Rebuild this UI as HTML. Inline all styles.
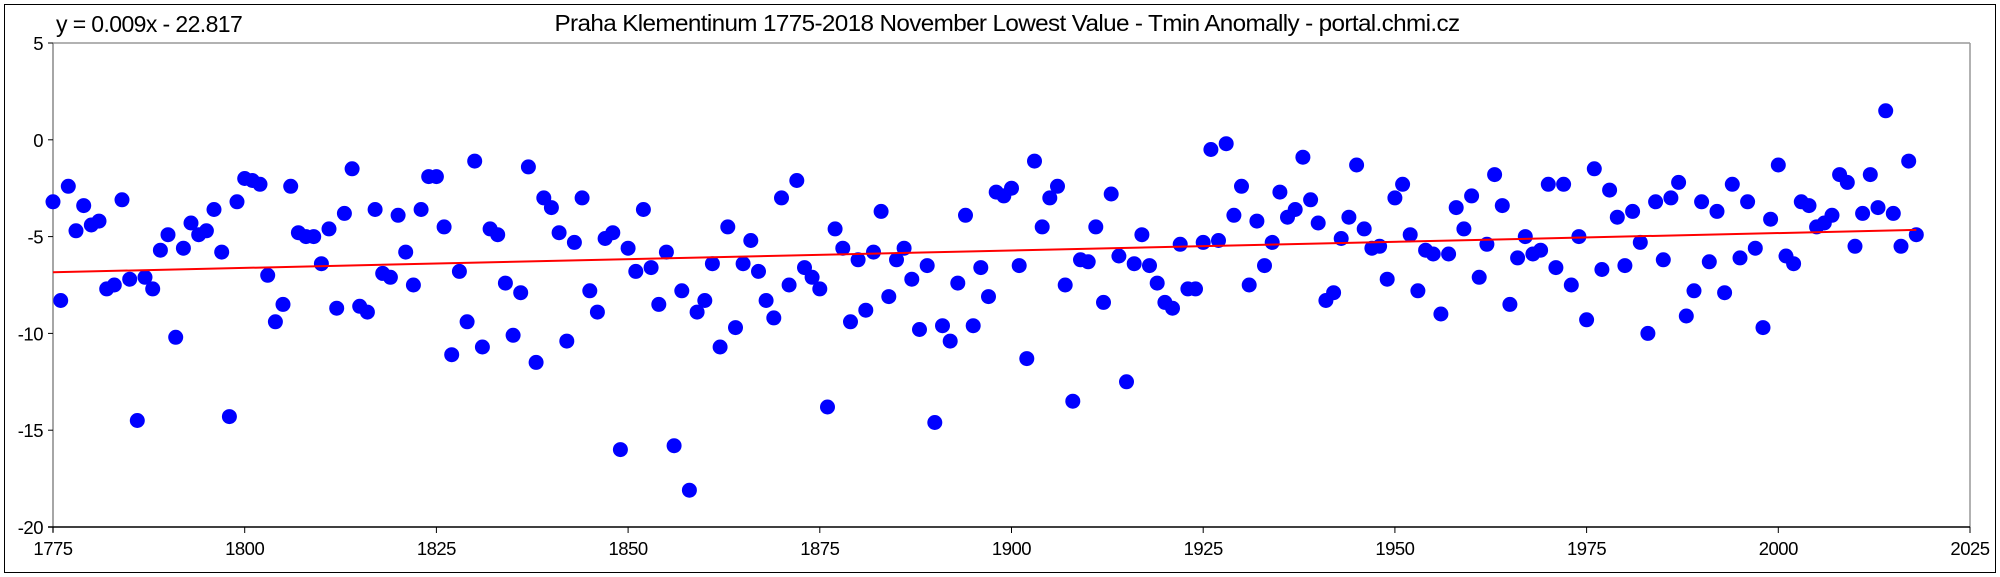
<!DOCTYPE html>
<html><head><meta charset="utf-8"><style>
html,body{margin:0;padding:0;background:#fff;}
svg{display:block;font-family:"Liberation Sans",Arial,sans-serif;}
</style></head><body>
<svg id="s" width="2000" height="577" xmlns="http://www.w3.org/2000/svg">
<rect x="4.5" y="4.5" width="1991" height="568" fill="#fff" stroke="#000" stroke-width="1"/>
<line x1="53" y1="43" x2="1970" y2="43" stroke="#999" stroke-width="1.5"/>
<line x1="1970" y1="43" x2="1970" y2="527" stroke="#999" stroke-width="1.5"/>
<line x1="53" y1="43" x2="53" y2="532" stroke="#888" stroke-width="1.5"/>
<line x1="48" y1="527" x2="1970" y2="527" stroke="#000" stroke-width="1.5"/>
<g id="ticks" stroke="#000" stroke-width="1"></g>
<g id="lab" font-size="18.5" fill="#000" letter-spacing="-0.5"></g>
<text x="56" y="32" font-size="23" letter-spacing="-0.6">y = 0.009x - 22.817</text>
<text x="1007" y="31" font-size="23" text-anchor="middle" letter-spacing="-0.6" textLength="905" lengthAdjust="spacingAndGlyphs">Praha Klementinum 1775-2018 November Lowest Value - Tmin Anomally - portal.chmi.cz</text>
<g id="pts" fill="#0000ff"></g>
<line id="tr" stroke="#ff0000" stroke-width="2"/>
</svg>
<script>
var d=[-3.2,-8.3,-2.4,-4.7,-3.4,-4.4,-4.2,-7.7,-7.5,-3.1,-7.2,-14.5,-7.1,-7.7,-5.7,-4.9,-10.2,-5.6,-4.3,-4.9,-4.7,-3.6,-5.8,-14.3,-3.2,
-2.0,-2.1,-2.3,-7.0,-9.4,-8.5,-2.4,-4.8,-5.0,-5.0,-6.4,-4.6,-8.7,-3.8,-1.5,-8.6,-8.9,-3.6,-6.9,-7.1,-3.9,-5.8,-7.5,-3.6,-1.9,
-1.9,-4.5,-11.1,-6.8,-9.4,-1.1,-10.7,-4.6,-4.9,-7.4,-10.1,-7.9,-1.4,-11.5,-3.0,-3.5,-4.8,-10.4,-5.3,-3.0,-7.8,-8.9,-5.1,-4.8,-16.0,
-5.6,-6.8,-3.6,-6.6,-8.5,-5.8,-15.8,-7.8,-18.1,-8.9,-8.3,-6.4,-10.7,-4.5,-9.7,-6.4,-5.2,-6.8,-8.3,-9.2,-3.0,-7.5,-2.1,-6.6,-7.1,
-7.7,-13.8,-4.6,-5.6,-9.4,-6.2,-8.8,-5.8,-3.7,-8.1,-6.2,-5.6,-7.2,-9.8,-6.5,-14.6,-9.6,-10.4,-7.4,-3.9,-9.6,-6.6,-8.1,-2.7,-2.9,
-2.5,-6.5,-11.3,-1.1,-4.5,-3.0,-2.4,-7.5,-13.5,-6.2,-6.3,-4.5,-8.4,-2.8,-6.0,-12.5,-6.4,-4.9,-6.5,-7.4,-8.4,-8.7,-5.4,-7.7,-7.7,
-5.3,-0.5,-5.2,-0.2,-3.9,-2.4,-7.5,-4.2,-6.5,-5.3,-2.7,-4.0,-3.6,-0.9,-3.1,-4.3,-8.3,-7.9,-5.1,-4.0,-1.3,-4.6,-5.6,-5.5,-7.2,
-3.0,-2.3,-4.9,-7.8,-5.7,-5.9,-9.0,-5.9,-3.5,-4.6,-2.9,-7.1,-5.4,-1.8,-3.4,-8.5,-6.1,-5.0,-5.9,-5.7,-2.3,-6.6,-2.3,-7.5,-5.0,
-9.3,-1.5,-6.7,-2.6,-4.0,-6.5,-3.7,-5.3,-10.0,-3.2,-6.2,-3.0,-2.2,-9.1,-7.8,-3.2,-6.3,-3.7,-7.9,-2.3,-6.1,-3.2,-5.6,-9.7,-4.1,
-1.3,-6.0,-6.4,-3.2,-3.4,-4.5,-4.3,-3.9,-1.8,-2.2,-5.5,-3.8,-1.8,-3.5,1.5,-3.8,-5.5,-1.1,-4.9];
function X(y){return 53+(y-1775)*7.668;}
function Y(v){return 43+(5-v)*19.36;}
var ns="http://www.w3.org/2000/svg";
function el(t,a,p,txt){var e=document.createElementNS(ns,t);for(var k in a)e.setAttribute(k,a[k]);if(txt!=null)e.textContent=txt;document.getElementById(p).appendChild(e);return e;}
for(var i=0;i<d.length;i++)el('circle',{cx:X(1775+i).toFixed(1),cy:Y(d[i]).toFixed(1),r:7.5},'pts');
var t=document.getElementById('tr');
t.setAttribute('x1',X(1775));t.setAttribute('y1',Y(0.009*1775-22.817));
t.setAttribute('x2',X(2018));t.setAttribute('y2',Y(0.009*2018-22.817));
for(var v=5;v>=-20;v-=5){el('line',{x1:48,y1:Y(v),x2:53,y2:Y(v)},'ticks');el('text',{x:43,y:Y(v)+7,'text-anchor':'end'},'lab',String(v));}
for(var y=1775;y<=2025;y+=25){el('line',{x1:X(y),y1:527,x2:X(y),y2:533},'ticks');el('text',{x:X(y),y:555,'text-anchor':'middle'},'lab',y);}
</script>
</body></html>
